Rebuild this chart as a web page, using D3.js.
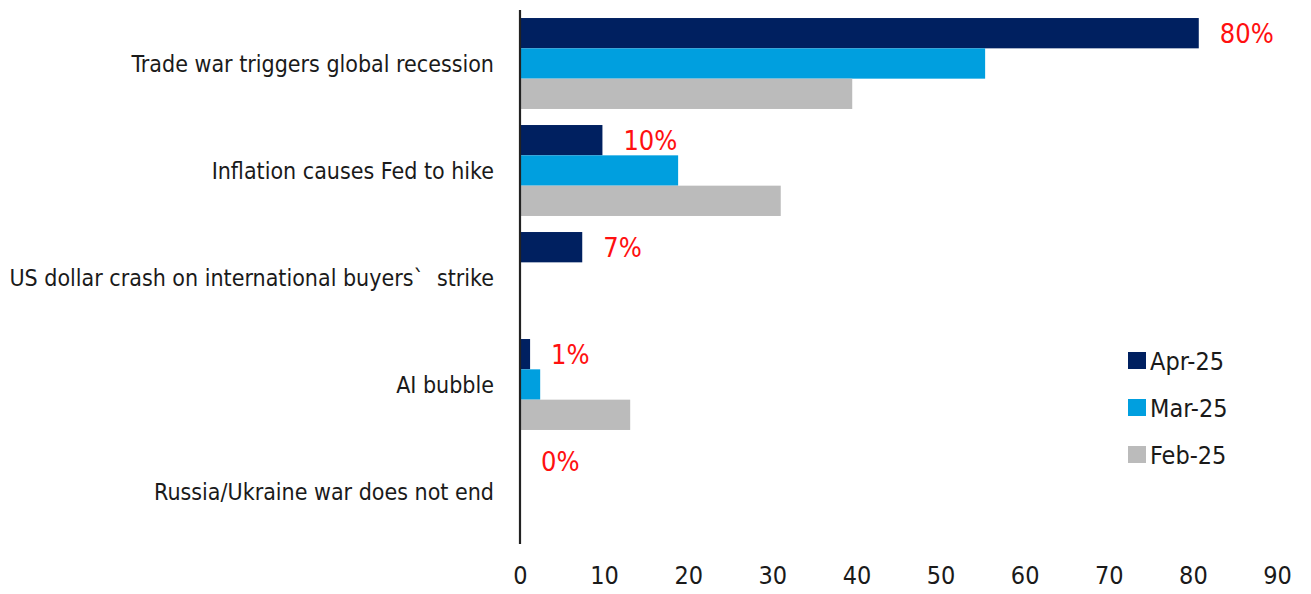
<!DOCTYPE html>
<html>
<head>
<meta charset="utf-8">
<script src="https://cdn.jsdelivr.net/npm/d3@7"></script>
<style>
  body { margin: 0; background: #fff; }
  svg text { font-family: "DejaVu Sans Condensed", "DejaVu Sans", sans-serif; white-space: pre; }
</style>
</head>
<body>
<div id="graphic"></div>
<script>
const width = 1311;
const height = 594;

// data
const categories = [
  'Trade war triggers global recession',
  'Inflation causes Fed to hike',
  'US dollar crash on international buyers`  strike',
  'AI bubble',
  'Russia/Ukraine war does not end'
];
const seriesNames = ['Apr-25', 'Mar-25', 'Feb-25'];
const apr25 = [80.7, 9.8, 7.4, 1.2, 0];
const mar25 = [55.3, 18.8, 0, 2.4, 0];
const feb25 = [39.5, 31.0, 0, 13.1, 0];
const aprLabels = ['80%', '10%', '7%', '1%', '0%'];
const xTicks = [0, 10, 20, 30, 40, 50, 60, 70, 80, 90];
const colors = ['#002060', '#009fdf', '#bbbbbb'];

const series = [apr25, mar25, feb25];

const svg = d3.select('#graphic')
  .append('svg')
  .attr('width', width)
  .attr('height', height);

const x = d3.scaleLinear()
  .domain([0, 90])
  .range([520, 1277]);

const y = d3.scaleBand()
  .domain(categories)
  .range([10, 545])
  .paddingInner(0.15)
  .paddingOuter(0.075);

const ySub = d3.scaleBand()
  .domain(seriesNames)
  .range([0, y.bandwidth()]);

// bars
const groups = svg.selectAll('g.cat')
  .data(categories)
  .enter()
  .append('g')
  .attr('class', 'cat')
  .attr('transform', d => `translate(0, ${y(d)})`);

groups.selectAll('rect')
  .data((d, i) => series.map((s, j) => ({ name: seriesNames[j], value: s[i], color: colors[j] })))
  .enter()
  .append('rect')
  .attr('x', x(0))
  .attr('y', d => ySub(d.name))
  .attr('width', d => x(d.value) - x(0))
  .attr('height', ySub.bandwidth())
  .attr('fill', d => d.color);

// red labels on Apr-25 bars
groups.append('text')
  .attr('x', (d, i) => x(apr25[i]) + 21)
  .attr('y', ySub('Apr-25') + ySub.bandwidth() / 2)
  .attr('dy', '0.35em')
  .attr('fill', '#ff1010')
  .attr('font-size', 27)
  .text((d, i) => aprLabels[i]);

// category labels
groups.append('text')
  .attr('x', 494)
  .attr('y', y.bandwidth() / 2)
  .attr('dy', '0.35em')
  .attr('text-anchor', 'end')
  .attr('fill', '#1a1a1a')
  .attr('font-size', 23)
  .text(d => d);

// x axis (labels only)
const axisX = d3.axisBottom(x).tickValues(xTicks).tickSize(0).tickPadding(0);
const gx = svg.append('g')
  .attr('transform', 'translate(0, 566)')
  .call(axisX);
gx.select('.domain').remove();
gx.selectAll('text')
  .attr('font-size', 25)
  .attr('fill', '#1a1a1a')
  .attr('font-family', null);

// y axis line
svg.append('line')
  .attr('x1', x(0)).attr('x2', x(0))
  .attr('y1', 10).attr('y2', 544)
  .attr('stroke', '#222')
  .attr('stroke-width', 2.2);

// legend
const legend = svg.selectAll('g.legend')
  .data(seriesNames)
  .enter()
  .append('g')
  .attr('class', 'legend')
  .attr('transform', (d, i) => `translate(1128, ${352 + i * 47})`);

legend.append('rect')
  .attr('width', 18)
  .attr('height', 17)
  .attr('fill', (d, i) => colors[i]);

legend.append('text')
  .attr('x', 22)
  .attr('y', 9)
  .attr('dy', '0.35em')
  .attr('font-size', 25)
  .attr('fill', '#1a1a1a')
  .text(d => d);
</script>
</body>
</html>
